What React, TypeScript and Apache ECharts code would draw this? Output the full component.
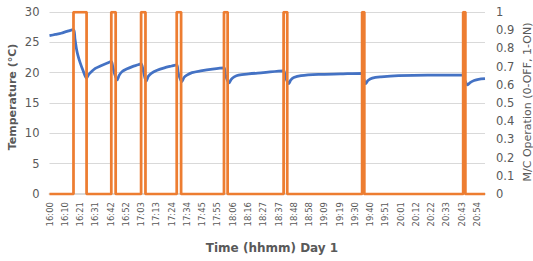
import React, { useEffect, useRef } from "react";
import * as echarts from "echarts";

// Time axis tick labels (hh:mm), one every 10.5 minutes from 16:00
const tickLabels = [
  "16:00", "16:10", "16:21", "16:31", "16:42", "16:52", "17:03", "17:13", "17:24", "17:34",
  "17:45", "17:55", "18:06", "18:16", "18:27", "18:37", "18:48", "18:58", "19:09", "19:19",
  "19:30", "19:40", "19:51", "20:01", "20:12", "20:22", "20:33", "20:43", "20:54",
];
const tickStep = 10.5; // minutes between labels
const endMinute = 299.5; // last sample, minutes after 16:00

// Temperature readings: minutes after 16:00 and °C
const tempMinutes = [
  0, 4, 8, 12, 16.5, 17.5, 18.5, 19.5, 21, 23, 25.5, 27, 29, 31.5, 35, 39, 42.5, 43.5, 44.5, 45.5,
  46.5, 48, 50, 53, 57, 61, 63, 64.5, 66.5, 68, 70, 74, 79, 84, 87.5, 88.5, 91, 92.5, 94.5, 98,
  104, 112, 120, 121, 123.5, 125, 127, 130, 137, 147, 161, 162, 164.5, 166, 168, 173, 185, 200, 215, 216,
  217.5, 219, 222, 228, 240, 260, 284.5, 285.5, 287.5, 289.5, 292, 295, 299.5,
];
const tempValues = [
  26.1, 26.3, 26.5, 26.8, 27.1, 25.6, 24.0, 22.9, 21.7, 20.4, 19.1, 19.7, 20.2, 20.7, 21.1, 21.5, 21.8, 21.0, 20.0, 19.3,
  18.8, 19.6, 20.2, 20.6, 21.0, 21.3, 21.5, 20.3, 18.6, 19.4, 19.9, 20.4, 20.8, 21.1, 21.3, 20.0, 18.5, 19.2, 19.6, 20.0,
  20.3, 20.6, 20.8, 19.6, 18.3, 18.9, 19.3, 19.6, 19.8, 20.0, 20.3, 19.4, 18.2, 18.8, 19.2, 19.5, 19.7, 19.8, 19.9, 19.1,
  18.2, 18.7, 19.1, 19.3, 19.5, 19.6, 19.6, 18.8, 18.0, 18.4, 18.7, 18.9, 19.0,
];

// Machine ON periods (minutes after 16:00)
const onStart = [16.5, 42.5, 63, 87.5, 120, 161, 215, 284.5];
const onEnd = [25.5, 45.5, 66, 90.5, 122.5, 163.5, 216.5, 286];

const FONT = "DejaVu Sans";
const TEXT = "#595959";

export default function App() {
  const ref = useRef<HTMLDivElement>(null);

  useEffect(() => {
    if (!ref.current) return;
    const chart = echarts.init(ref.current, undefined, { renderer: "svg" });

    const tempData = tempMinutes.map((t, i) => [t, tempValues[i]]);
    const opData: number[][] = [[0, 0]];
    onStart.forEach((s, i) => {
      opData.push([s, 0], [s, 1], [onEnd[i], 1], [onEnd[i], 0]);
    });
    opData.push([endMinute, 0]);

    chart.setOption({
      animation: false,
      grid: { left: 49.5, right: 48, top: 12, bottom: 67 },
      xAxis: {
        type: "value",
        min: 0,
        max: endMinute,
        interval: tickStep,
        axisLine: { show: true, onZero: false, lineStyle: { color: "#d9d9d9", width: 2 } },
        axisTick: { show: false },
        splitLine: { show: false },
        axisLabel: {
          rotate: 90,
          margin: 8,
          fontSize: 8.5,
          fontFamily: FONT,
          color: TEXT,
          showMaxLabel: false,
          formatter: (v: number) => {
            const idx = Math.round(v / tickStep);
            if (Math.abs(v - idx * tickStep) > 0.01) return "";
            return tickLabels[idx] ?? "";
          },
        },
      },
      yAxis: [
        {
          type: "value",
          min: 0,
          max: 30,
          interval: 5,
          axisLine: { show: false },
          axisTick: { show: false },
          splitLine: { show: true, lineStyle: { color: "#d9d9d9", width: 1 } },
          axisLabel: { margin: 10, fontSize: 11.5, fontFamily: FONT, color: TEXT },
        },
        {
          type: "value",
          min: 0,
          max: 1,
          interval: 0.1,
          position: "right",
          axisLine: { show: false },
          axisTick: { show: false },
          splitLine: { show: false },
          axisLabel: {
            margin: 11,
            fontSize: 11.5,
            fontFamily: FONT,
            color: TEXT,
            formatter: (v: number) => String(+v.toFixed(1)),
          },
        },
      ],
      series: [
        {
          type: "line",
          yAxisIndex: 0,
          data: tempData,
          showSymbol: false,
          smooth: 0.3,
          lineStyle: { color: "#4472C4", width: 2.75 },
          itemStyle: { color: "#4472C4" },
        },
        {
          type: "line",
          yAxisIndex: 1,
          data: opData,
          showSymbol: false,
          lineStyle: { color: "#ED7D31", width: 2.75 },
          itemStyle: { color: "#ED7D31" },
        },
      ],
      graphic: [
        {
          type: "text",
          x: 12,
          y: 97,
          rotation: Math.PI / 2,
          style: {
            text: "Temperature (°C)",
            font: `bold 11px "${FONT}"`,
            fill: TEXT,
            align: "center",
            verticalAlign: "middle",
          },
        },
        {
          type: "text",
          x: 272,
          y: 248,
          style: {
            text: "Time (hhmm) Day 1",
            font: `bold 12px "${FONT}"`,
            fill: TEXT,
            align: "center",
            verticalAlign: "middle",
          },
        },
        {
          type: "text",
          x: 527.5,
          y: 102,
          rotation: Math.PI / 2,
          style: {
            text: "M/C Operation (0-OFF, 1-ON)",
            font: `11px "${FONT}"`,
            fill: TEXT,
            align: "center",
            verticalAlign: "middle",
          },
        },
      ],
    });

    return () => chart.dispose();
  }, []);

  return (
    <div
      ref={ref}
      style={{ position: "fixed", left: 0, top: 0, width: 533, height: 261, background: "#fff" }}
    />
  );
}
